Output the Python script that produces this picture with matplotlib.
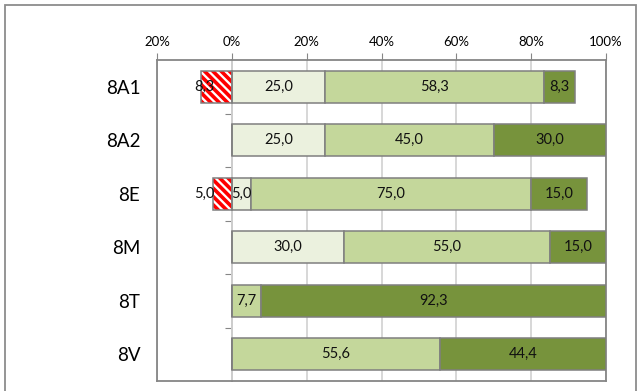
import numpy as np
import matplotlib.pyplot as plt
from matplotlib.patches import Rectangle

plt.rcParams['font.family'] = ['Lato', 'DejaVu Sans']
plt.rcParams['hatch.linewidth'] = 2.6

classes = ['8A1', '8A2', '8E', '8M', '8T', '8V']
negative = [8.3, 0, 5.0, 0, 0, 0]
low = [25.0, 25.0, 5.0, 30.0, 0, 0]
mid = [58.3, 45.0, 75.0, 55.0, 7.7, 55.6]
high = [8.3, 30.0, 15.0, 15.0, 92.3, 44.4]

ticks = [-20, 0, 20, 40, 60, 80, 100]

def fmt(v):
    return f"{v:.1f}".replace('.', ',')

grey = '#868686'
fig = plt.figure(figsize=(6.38, 3.91), dpi=100)
ax = fig.add_axes([157/638, 1-381/391, 449/638, 321/391])

y = np.arange(len(classes))
h = 0.6

# negative part, red stripes
neg = -np.array(negative)
ax.barh(y, neg, height=h, color='white', edgecolor='#ff0000', hatch='\\\\\\\\', linewidth=0, zorder=3)
ax.barh(y, neg, height=h, fill=False, edgecolor='#7f7f7f', linewidth=1.1, zorder=4)

left = np.zeros(len(classes))
for vals, col in [(low, '#ebf1de'), (mid, '#c4d79b'), (high, '#77933c')]:
    vals = np.array(vals)
    ax.barh(y, vals, left=left, height=h, color=col, edgecolor='#7f7f7f', linewidth=1.1, zorder=3)
    for yi, l, v in zip(y, left, vals):
        if v > 0:
            ax.text(l + v / 2, yi, fmt(v), ha='center', va='center', fontsize=10.5, color='#111111', zorder=5)
    left = left + vals

for yi, v in zip(y, negative):
    if v > 0:
        ax.text(-4.6, yi, fmt(v), ha='right', va='center', fontsize=10.5, color='#111111', zorder=5)

ax.set_xlim(-20, 100)
ax.set_ylim(len(classes) - 0.5, -0.5)
ax.set_xticks(ticks)
ax.set_xticklabels([f"{abs(t)}%" for t in ticks])
ax.xaxis.tick_top()
ax.tick_params(axis='x', length=5, color=grey, labelsize=9.5, pad=4)
ax.set_yticks(y)
ax.set_yticklabels(classes)
ax.tick_params(axis='y', length=0, labelsize=13.5, pad=12)
for s in ax.spines.values():
    s.set_color(grey)
    s.set_linewidth(1.3)
ax.grid(axis='x', color='#d4d4d4', linewidth=1.3, zorder=0)
ax.set_axisbelow(True)

# vertical category axis at 0 with ticks between groups
sec = ax.secondary_yaxis(20 / 120)
sec.set_yticks(y[:-1] + 0.5)
sec.tick_params(axis='y', length=5, color=grey, labelleft=False, labelright=False, direction='out')
for s in sec.spines.values():
    s.set_color(grey)
    s.set_linewidth(1.3)

fig.add_artist(Rectangle((5/638, -0.05), 631/638, 1.05 - 5/391, transform=fig.transFigure,
                         fill=False, edgecolor='#8c8c8c', linewidth=1.3))

fig.savefig('out.png', dpi=100)
